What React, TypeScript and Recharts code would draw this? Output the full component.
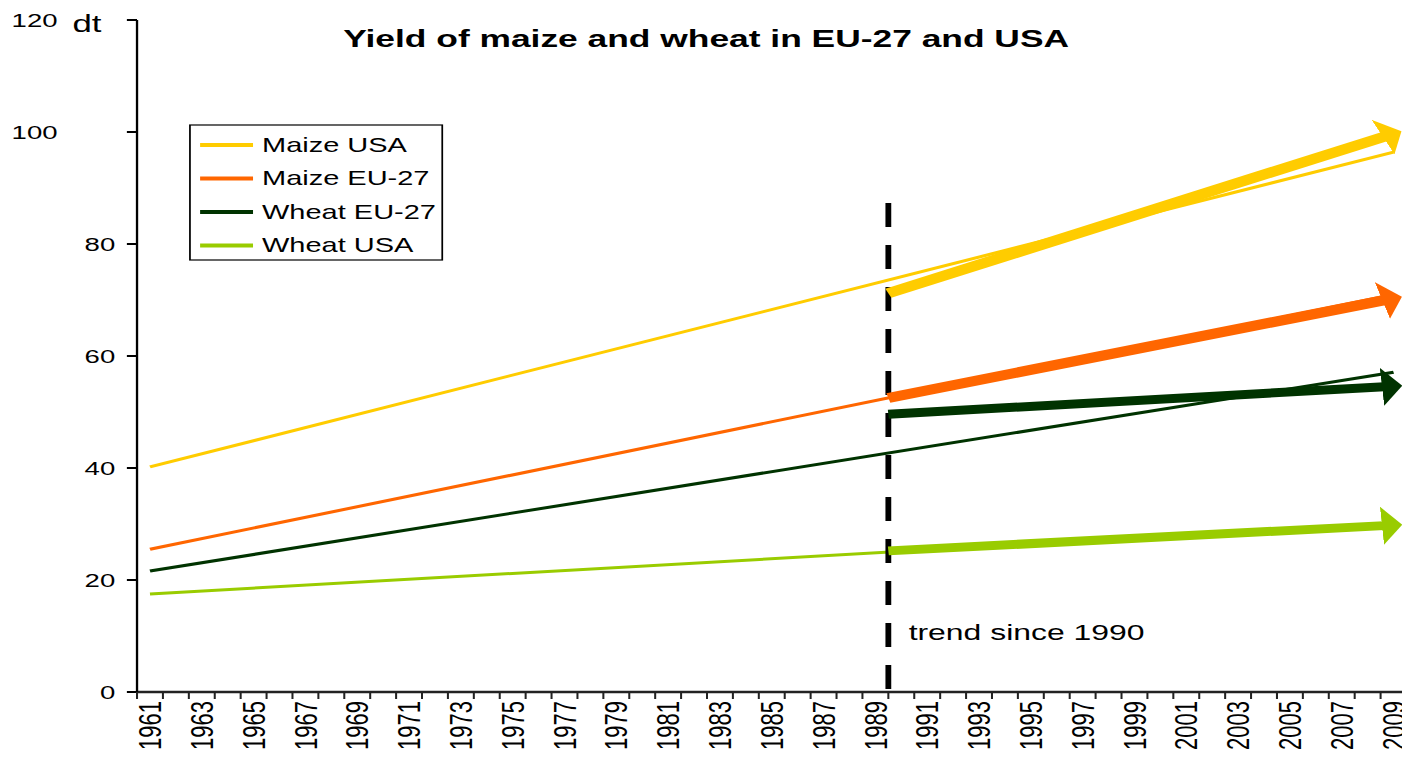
import React from "react";
import { Line, LineChart, ReferenceLine, XAxis, YAxis } from "recharts";

// the reference is stretched sideways, so the chart is drawn narrow and scaled in x
const STRETCH = 1.45;
const FONT = "'Liberation Sans', Arial, sans-serif";

const TICK_YEARS = [
  1961, 1963, 1965, 1967, 1969, 1971, 1973, 1975, 1977, 1979, 1981, 1983, 1985,
  1987, 1989, 1991, 1993, 1995, 1997, 1999, 2001, 2003, 2005, 2007, 2009,
];
const FIRST_YEAR = 1961;
const LAST_YEAR = 2009;
const Y_TICKS = [0, 20, 40, 60, 80, 100, 120];

// long-run trend 1961-2009
const TREND_YEARS = [1961, 2009];
const MAIZE_USA_TREND = [40.2, 96.4];
const MAIZE_EU_TREND = [25.5, 71.0];
const WHEAT_EU_TREND = [21.6, 57.1];
const WHEAT_USA_TREND = [17.5, 30.1];

// trend since 1990 (drawn from the break line)
const BREAK_YEAR = 1989.5;
const RECENT_YEARS = [BREAK_YEAR, 2009];
const MAIZE_USA_RECENT = [71.2, 99.7];
const MAIZE_EU_RECENT = [52.5, 70.3];
const WHEAT_EU_RECENT = [49.6, 54.6];
const WHEAT_USA_RECENT = [25.2, 29.8];
const BREAK_TOP = 87.3;

const SERIES = [
  { id: "maize-usa", name: "Maize USA", color: "#FFCC00", trend: MAIZE_USA_TREND, recent: MAIZE_USA_RECENT, width: 10 },
  { id: "maize-eu", name: "Maize EU-27", color: "#FF6600", trend: MAIZE_EU_TREND, recent: MAIZE_EU_RECENT, width: 10 },
  { id: "wheat-eu", name: "Wheat EU-27", color: "#003300", trend: WHEAT_EU_TREND, recent: WHEAT_EU_RECENT, width: 9 },
  { id: "wheat-usa", name: "Wheat USA", color: "#99CC00", trend: WHEAT_USA_TREND, recent: WHEAT_USA_RECENT, width: 9 },
];

const toRows = (years: number[], values: number[]) =>
  years.map((year, i) => ({ year, value: values[i] }));

const boundaries: number[] = [];
for (let y = FIRST_YEAR; y <= LAST_YEAR + 1; y++) boundaries.push(y - 0.5);
const X_TICKS = [...boundaries, ...TICK_YEARS].sort((a, b) => a - b);

function XTick(props: any) {
  const { x, y, payload } = props;
  const v = payload.value;
  if (!Number.isInteger(v)) {
    return <line x1={x} y1={y - 7} x2={x} y2={y} stroke="#222" strokeWidth={1.4} />;
  }
  return (
    <text
      transform={`translate(${x},${y + 2}) rotate(-90)`}
      textAnchor="end"
      dy="0.35em"
      fontSize={22}
      fontFamily={FONT}
      fill="#000"
    >
      {v}
    </text>
  );
}

function YTick(props: any) {
  const { x, y, payload } = props;
  const v = payload.value;
  const wide = v >= 100;
  return (
    <text
      x={wide ? 8 : x}
      y={y}
      dy="0.35em"
      textAnchor={wide ? "start" : "end"}
      fontSize={19}
      fontFamily={FONT}
      fill="#000"
    >
      {v}
    </text>
  );
}

function TrendLabel(props: any) {
  const { viewBox } = props;
  return (
    <text
      x={viewBox.x + 14}
      y={viewBox.y + viewBox.height - 52}
      fontSize={22}
      fontFamily={FONT}
      fill="#000"
    >
      trend since 1990
    </text>
  );
}

export default function App() {
  return (
    <div
      style={{
        position: "absolute",
        left: 0,
        top: 0,
        width: 1402,
        height: 758,
        overflow: "hidden",
        background: "#fff",
      }}
    >
      <div
        style={{
          width: 975,
          height: 758,
          transform: `scaleX(${STRETCH})`,
          transformOrigin: "0 0",
          fontFamily: FONT,
        }}
      >
        <LineChart width={975} height={758} margin={{ top: 20, right: 5, bottom: 0, left: 0 }}>
          <defs>
            {SERIES.map((s) => (
              <marker
                key={s.id}
                id={`arrow-${s.id}`}
                viewBox="0 0 14 38"
                refX={8}
                refY={19}
                markerWidth={14}
                markerHeight={38}
                markerUnits="userSpaceOnUse"
                orient="auto"
              >
                <path d="M0,0 L14,19 L0,38 Z" fill={s.color} />
              </marker>
            ))}
          </defs>

          <XAxis
            dataKey="year"
            type="number"
            domain={[FIRST_YEAR - 0.5, LAST_YEAR + 0.5]}
            ticks={X_TICKS}
            interval={0}
            height={66}
            tickSize={7}
            tickMargin={0}
            tickLine={false}
            tick={<XTick />}
            axisLine={{ stroke: "#222", strokeWidth: 2.5 }}
            allowDataOverflow
          />
          <YAxis
            type="number"
            domain={[0, 120]}
            ticks={Y_TICKS}
            width={94.5}
            tickSize={7}
            tickMargin={8}
            tickLine={{ stroke: "#000", strokeWidth: 2 }}
            tick={<YTick />}
            axisLine={{ stroke: "#000", strokeWidth: 1.6 }}
            allowDataOverflow
          />

          {SERIES.map((s) => (
            <Line
              key={`${s.id}-trend`}
              data={toRows(TREND_YEARS, s.trend)}
              dataKey="value"
              type="linear"
              stroke={s.color}
              strokeWidth={3}
              dot={false}
              activeDot={false}
              isAnimationActive={false}
            />
          ))}

          <ReferenceLine
            segment={[
              { x: BREAK_YEAR, y: BREAK_TOP },
              { x: BREAK_YEAR, y: 0 },
            ]}
            stroke="#000"
            strokeWidth={4}
            strokeDasharray="24 18"
            label={<TrendLabel />}
          />

          {SERIES.map((s) => (
            <Line
              key={`${s.id}-recent`}
              data={toRows(RECENT_YEARS, s.recent)}
              dataKey="value"
              type="linear"
              stroke={s.color}
              strokeWidth={s.width}
              markerEnd={`url(#arrow-${s.id})`}
              dot={false}
              activeDot={false}
              isAnimationActive={false}
            />
          ))}

          <text x={50} y={32} fontSize={24} fontFamily={FONT} fill="#000">
            dt
          </text>
          <text
            x={487}
            y={47}
            textAnchor="middle"
            fontSize={24.4}
            fontWeight="bold"
            fontFamily={FONT}
            fill="#000"
          >
            Yield of maize and wheat in EU-27 and USA
          </text>

          <g>
            <rect x={131} y={125} width={174} height={135} fill="#fff" stroke="#000" strokeWidth={1.2} />
            {SERIES.map((s, i) => {
              const cy = 145 + i * 33.5;
              return (
                <g key={s.id}>
                  <line x1={138} y1={cy} x2={174.5} y2={cy} stroke={s.color} strokeWidth={4} />
                  <text x={180.7} y={cy + 7} fontSize={20} fontFamily={FONT} fill="#000">
                    {s.name}
                  </text>
                </g>
              );
            })}
          </g>
        </LineChart>
      </div>
    </div>
  );
}
